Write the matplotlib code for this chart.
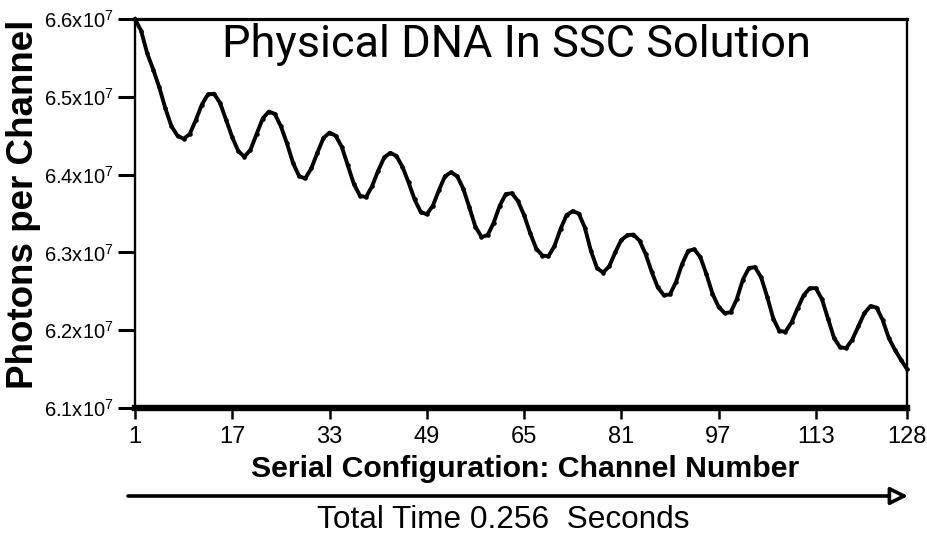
import matplotlib
matplotlib.use("Agg")
import matplotlib.pyplot as plt

# ---- data ----
channels = list(range(1, 129))
photons_e7 = [
    6.600, 6.585, 6.556, 6.535, 6.512, 6.485, 6.462, 6.450, 6.446, 6.452,
    6.470, 6.490, 6.503, 6.504, 6.492, 6.470, 6.448, 6.430, 6.423, 6.432,
    6.452, 6.472, 6.481, 6.478, 6.462, 6.440, 6.415, 6.398, 6.395, 6.408,
    6.428, 6.447, 6.454, 6.450, 6.436, 6.412, 6.388, 6.373, 6.371, 6.385,
    6.405, 6.422, 6.428, 6.424, 6.410, 6.390, 6.368, 6.352, 6.349, 6.360,
    6.380, 6.398, 6.403, 6.398, 6.382, 6.358, 6.333, 6.320, 6.322, 6.338,
    6.360, 6.375, 6.376, 6.366, 6.348, 6.325, 6.305, 6.296, 6.295, 6.308,
    6.330, 6.348, 6.353, 6.350, 6.332, 6.302, 6.280, 6.274, 6.282, 6.300,
    6.316, 6.322, 6.323, 6.315, 6.298, 6.275, 6.255, 6.245, 6.246, 6.262,
    6.285, 6.302, 6.304, 6.294, 6.272, 6.247, 6.230, 6.222, 6.223, 6.240,
    6.265, 6.280, 6.281, 6.268, 6.243, 6.215, 6.199, 6.198, 6.210, 6.228,
    6.245, 6.254, 6.254, 6.240, 6.215, 6.190, 6.178, 6.177, 6.188, 6.205,
    6.222, 6.231, 6.229, 6.213, 6.190, 6.175, 6.162, 6.150,
]
x_ticks = [1, 17, 33, 49, 65, 81, 97, 113, 128]
y_ticks_e7 = [6.1, 6.2, 6.3, 6.4, 6.5, 6.6]
y_tick_labels = [r"6.1x10$^7$", r"6.2x10$^7$", r"6.3x10$^7$",
                 r"6.4x10$^7$", r"6.5x10$^7$", r"6.6x10$^7$"]
title = "Physical DNA In SSC Solution"
ylabel = "Photons per Channel"
xlabel = "Serial Configuration: Channel Number"
time_label = "Total Time 0.256  Seconds"

values = [v * 1e7 for v in photons_e7]
yticks = [v * 1e7 for v in y_ticks_e7]

plt.rcParams["font.family"] = ["Liberation Sans", "DejaVu Sans"]
plt.rcParams["mathtext.fontset"] = "custom"
plt.rcParams["mathtext.rm"] = "Liberation Sans"
plt.rcParams["mathtext.it"] = "Liberation Sans"

W, H = 927, 541
fig = plt.figure(figsize=(W / 100, H / 100), dpi=100)
fig.patch.set_facecolor("white")
ax = fig.add_axes([135 / W, 1 - 408 / H, (907 - 135) / W, (408 - 19) / H])

ax.plot(channels, values, color="black", lw=2.8, marker=".", ms=4.5,
        clip_on=False, solid_joinstyle="round", zorder=3)

ax.set_xlim(1, 128)
ax.set_ylim(6.1e7, 6.6e7)
ax.set_xticks(x_ticks)
ax.set_xticklabels([str(t) for t in x_ticks], fontsize=17)
ax.set_yticks(yticks)
ax.set_yticklabels(y_tick_labels, fontsize=14.5)

ax.spines["left"].set_linewidth(1.7)
ax.spines["right"].set_linewidth(1.7)
ax.spines["top"].set_linewidth(2.3)
ax.spines["bottom"].set_linewidth(4.6)
for s in ax.spines.values():
    s.set_color("black")

ax.tick_params(axis="y", direction="out", length=12, width=2.2, pad=3,
               colors="black")
ax.tick_params(axis="x", direction="out", length=8, width=1.8, pad=5,
               colors="black")

ax.text((517 - 135) / (907 - 135), (408 - 45) / (408 - 19), title,
        transform=ax.transAxes, ha="center", va="center",
        fontsize=32.5, fontfamily=["Roboto", "Liberation Sans"], color="black")

fig.text(24 / W, 1 - 204 / H, ylabel, rotation=90, ha="center", va="center",
         fontsize=26.5, fontweight="bold", color="black")

fig.text(525 / W, 1 - 469 / H, xlabel, ha="center", va="center",
         fontsize=21.8, fontweight="bold", color="black")

ax.annotate("", xy=(908 / W, 1 - 496 / H), xytext=(128 / W, 1 - 496 / H),
            xycoords="figure fraction", textcoords="figure fraction",
            arrowprops=dict(arrowstyle="-|>,head_length=0.7,head_width=0.35",
                            lw=2.6, fc="white", ec="black",
                            mutation_scale=15, shrinkA=0, shrinkB=0))

fig.text(503 / W, 1 - 520 / H, time_label, ha="center", va="center",
         fontsize=22.7, color="black")

fig.savefig("out.png", dpi=100, facecolor="white")
